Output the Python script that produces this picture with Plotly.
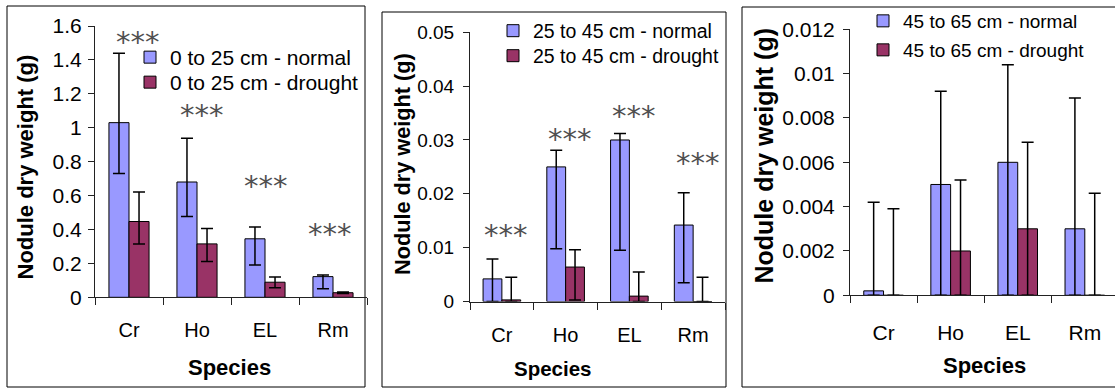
import plotly.graph_objects as go

W, H = 1115, 388
FONT = "Liberation Sans"

species = ["Cr", "Ho", "EL", "Rm"]

# 0 to 25 cm
top_normal = [1.03, 0.68, 0.345, 0.122]
top_normal_up = [0.41, 0.258, 0.069, 0.010]
top_normal_down = [0.30, 0.203, 0.154, 0.071]
top_drought = [0.447, 0.315, 0.089, 0.027]
top_drought_up = [0.174, 0.091, 0.031, 0.004]
top_drought_down = [0.133, 0.104, 0.032, 0.004]

# 25 to 45 cm
mid_normal = [0.0042, 0.025, 0.030, 0.0142]
mid_normal_up = [0.0037, 0.0031, 0.0012, 0.0060]
mid_normal_down = [0.0042, 0.0152, 0.0205, 0.0107]
mid_drought = [0.0003, 0.0064, 0.0010, 0.0]
mid_drought_up = [0.0042, 0.0032, 0.0045, 0.0045]
mid_drought_down = [0.0003, 0.0061, 0.0010, 0.0]

# 45 to 65 cm
deep_normal = [0.0002, 0.005, 0.006, 0.003]
deep_normal_up = [0.0040, 0.0042, 0.0044, 0.0059]
deep_normal_down = [0.0002, 0.005, 0.006, 0.003]
deep_drought = [0.0, 0.002, 0.003, 0.0]
deep_drought_up = [0.0039, 0.0032, 0.0039, 0.0046]
deep_drought_down = [0.0, 0.002, 0.003, 0.0]

# significance markers (category position, value)
stars_top_x = [0.125, 1.069, 2.011, 2.951]
stars_top_y = [1.519, 1.088, 0.669, 0.386]
stars_mid_x = [0.062, 1.066, 2.07, 3.075]
stars_mid_y = [0.0129, 0.0306, 0.035, 0.0261]

ticks_top = [0, 0.2, 0.4, 0.6, 0.8, 1.0, 1.2, 1.4, 1.6]
ticks_top_text = ["0", "0.2", "0.4", "0.6", "0.8", "1", "1.2", "1.4", "1.6"]
ticks_mid = [0, 0.01, 0.02, 0.03, 0.04, 0.05]
ticks_mid_text = ["0", "0.01", "0.02", "0.03", "0.04", "0.05"]
ticks_deep = [0, 0.002, 0.004, 0.006, 0.008, 0.01, 0.012]
ticks_deep_text = ["0", "0.002", "0.004", "0.006", "0.008", "0.01", "0.012"]

NORMAL = "#9999FF"
DROUGHT = "#993366"
LINE = "#000000"


def px(x):
    return x / W


def py(y):
    return 1 - y / H


def bars(name, vals, up, down, color, xa, ya, legend):
    return go.Bar(
        x=species, y=vals, name=name,
        marker=dict(color=color, line=dict(color=LINE, width=1)),
        error_y=dict(type="data", symmetric=False, array=up, arrayminus=down,
                     color=LINE, thickness=1.5, width=6),
        xaxis=xa, yaxis=ya, legend=legend,
    )


fig = go.Figure()
fig.add_trace(bars("0 to 25 cm - normal", top_normal, top_normal_up, top_normal_down, NORMAL, "x", "y", "legend"))
fig.add_trace(bars("0 to 25 cm - drought", top_drought, top_drought_up, top_drought_down, DROUGHT, "x", "y", "legend2"))
fig.add_trace(bars("25 to 45 cm - normal", mid_normal, mid_normal_up, mid_normal_down, NORMAL, "x2", "y2", "legend3"))
fig.add_trace(bars("25 to 45 cm - drought", mid_drought, mid_drought_up, mid_drought_down, DROUGHT, "x2", "y2", "legend4"))
fig.add_trace(bars("45 to 65 cm - normal", deep_normal, deep_normal_up, deep_normal_down, NORMAL, "x3", "y3", "legend5"))
fig.add_trace(bars("45 to 65 cm - drought", deep_drought, deep_drought_up, deep_drought_down, DROUGHT, "x3", "y3", "legend6"))


def xaxis(dom, size, rng, anchor, standoff):
    return dict(domain=dom, anchor=anchor, range=rng, showline=True, linecolor="#222222",
                linewidth=1, ticks="outside", tickson="boundaries", ticklen=7,
                tickcolor="#222222", tickfont=dict(family=FONT, size=size, color="#000"),
                ticklabelstandoff=standoff, showgrid=False, zeroline=False, fixedrange=True,
                automargin=False)


def yaxis(dom, rng, vals, text, size, anchor, standoff):
    return dict(domain=dom, anchor=anchor, range=rng, showline=True, linecolor="#222222",
                linewidth=1, ticks="outside", ticklen=6, tickcolor="#222222",
                tickvals=vals, ticktext=text, ticklabelstandoff=standoff,
                tickfont=dict(family=FONT, size=size, color="#000"),
                showgrid=False, zeroline=False, fixedrange=True, automargin=False)


def legend_at(x, top, size):
    return dict(x=px(x), y=py(top), xanchor="left", yanchor="top", bgcolor="rgba(0,0,0,0)",
                font=dict(family=FONT, size=size, color="#000"), tracegroupgap=0)


fig.update_layout(
    width=W, height=H, autosize=False,
    margin=dict(l=0, r=0, t=0, b=0, pad=0, autoexpand=False),
    paper_bgcolor="white", plot_bgcolor="white",
    barmode="group", bargap=0.41, bargroupgap=0,
    xaxis=xaxis([px(95), px(367)], 20, [-0.5, 3.5], "y", 15),
    yaxis=yaxis([py(297.3), py(26)], [0, 1.6], ticks_top, ticks_top_text, 21, "x", 2),
    xaxis2=xaxis([px(470), px(725)], 20, [-0.5, 3.5], "y2", 15),
    yaxis2=yaxis([py(301.5), py(32.3)], [0, 0.05], ticks_mid, ticks_mid_text, 19, "x2", 5),
    xaxis3=xaxis([px(850), 1.0], 21, [-0.5, 3.45], "y3", 18),
    yaxis3=yaxis([py(295.3), py(29.3)], [0, 0.012], ticks_deep, ticks_deep_text, 21, "x3", 4),
    legend=legend_at(130, 59 - 22, 21),
    legend2=legend_at(130, 83 - 21, 21),
    legend3=legend_at(493, 33 - 21.5, 19.5),
    legend4=legend_at(493, 58 - 21.5, 19.5),
    legend5=legend_at(863, 22 - 20, 19),
    legend6=legend_at(863, 51 - 20, 19),
    showlegend=True,
)

# panel frames
for x0, x1, y0, y1 in [(7, 365, 6, 387), (382, 726, 12, 387), (742, 1120, 7, 387)]:
    fig.add_shape(type="rect", xref="paper", yref="paper", x0=px(x0), x1=px(x1),
                  y0=py(y1), y1=py(y0), line=dict(color="#000", width=1), layer="below")

ann = []
# axis titles
for cx, cy, size in [(25, 167.5, 22), (402, 164, 21.7), (763, 155.5, 25)]:
    ann.append(dict(text="Nodule dry weight (g)", textangle=-90, xref="paper", yref="paper",
                    x=px(cx), y=py(cy), xanchor="center", yanchor="middle", showarrow=False,
                    font=dict(family=FONT, size=size, color="#000", weight="bold")))
for cx, cy, size in [(229, 367, 22), (553, 368, 20.5), (984.5, 365, 22)]:
    ann.append(dict(text="Species", xref="paper", yref="paper", x=px(cx), y=py(cy),
                    xanchor="center", yanchor="middle", showarrow=False,
                    font=dict(family=FONT, size=size, color="#000", weight="bold")))
# significance stars
for xs, ys, xr, yr in [(stars_top_x, stars_top_y, "x", "y"), (stars_mid_x, stars_mid_y, "x2", "y2")]:
    for sx, sy in zip(xs, ys):
        ann.append(dict(text="***", xref=xr, yref=yr, x=sx, y=sy, xanchor="center",
                        yanchor="middle", showarrow=False, yshift=-2.5,
                        font=dict(family="DejaVu Sans", size=29, color="#505050")))
fig.update_layout(annotations=ann)

fig.write_html("out.html")
